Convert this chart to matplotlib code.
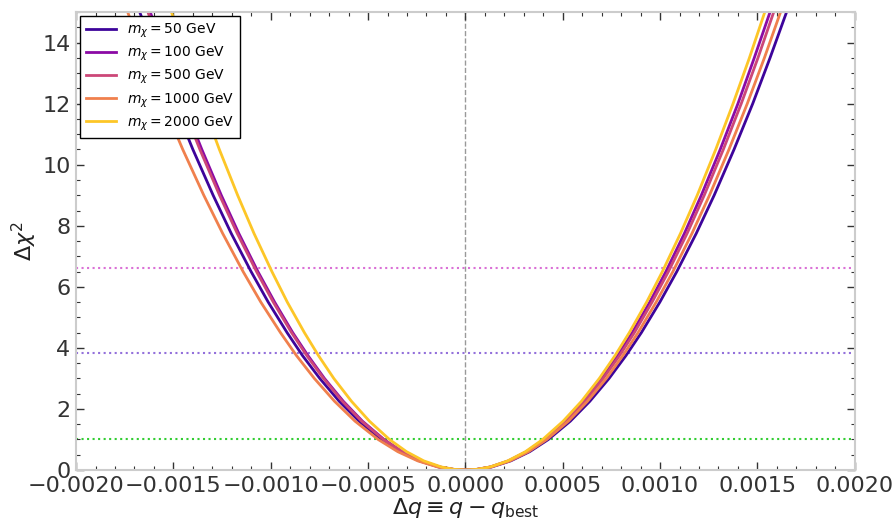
import numpy as np
import matplotlib
matplotlib.use("Agg")
import matplotlib.pyplot as plt
from matplotlib.ticker import MultipleLocator, FuncFormatter

levels = [15, 13.5, 12, 10.5, 9, 7.75, 6.5, 5.5, 4.5, 3.75, 3, 2.25, 1.6, 1, 0.6, 0.3, 0.1, 0.02, 0]

# |Delta q| (units of 1e-3) at those levels, left (q < q_best) and right branch
left_50 = [1.673, 1.587, 1.496, 1.400, 1.296, 1.203, 1.101, 1.013, 0.916, 0.837, 0.748, 0.648, 0.546, 0.432, 0.335, 0.237, 0.137, 0.061, 0]
right_50 = [1.650, 1.565, 1.476, 1.380, 1.278, 1.186, 1.086, 0.999, 0.904, 0.825, 0.738, 0.639, 0.539, 0.426, 0.330, 0.233, 0.135, 0.060, 0]
left_100 = [1.619, 1.536, 1.448, 1.354, 1.254, 1.164, 1.066, 0.980, 0.887, 0.809, 0.724, 0.627, 0.529, 0.418, 0.324, 0.229, 0.132, 0.059, 0]
right_100 = [1.565, 1.484, 1.400, 1.309, 1.212, 1.125, 1.030, 0.947, 0.857, 0.782, 0.700, 0.606, 0.511, 0.404, 0.313, 0.221, 0.128, 0.057, 0]
left_500 = [1.631, 1.547, 1.458, 1.364, 1.263, 1.172, 1.073, 0.987, 0.893, 0.815, 0.729, 0.632, 0.533, 0.421, 0.326, 0.231, 0.133, 0.060, 0]
right_500 = [1.584, 1.503, 1.417, 1.325, 1.227, 1.139, 1.043, 0.959, 0.868, 0.792, 0.708, 0.614, 0.517, 0.409, 0.317, 0.224, 0.129, 0.058, 0]
left_1000 = [1.735, 1.646, 1.552, 1.452, 1.344, 1.247, 1.142, 1.051, 0.950, 0.868, 0.776, 0.672, 0.567, 0.448, 0.347, 0.245, 0.142, 0.063, 0]
right_1000 = [1.619, 1.536, 1.448, 1.354, 1.254, 1.164, 1.066, 0.980, 0.887, 0.809, 0.724, 0.627, 0.529, 0.418, 0.324, 0.229, 0.132, 0.059, 0]
left_2000 = [1.510, 1.433, 1.351, 1.264, 1.170, 1.086, 0.994, 0.915, 0.827, 0.755, 0.676, 0.585, 0.493, 0.390, 0.302, 0.214, 0.123, 0.055, 0]
right_2000 = [1.538, 1.459, 1.375, 1.286, 1.191, 1.105, 1.012, 0.931, 0.842, 0.769, 0.688, 0.596, 0.502, 0.397, 0.308, 0.217, 0.126, 0.056, 0]

masses = [50, 100, 500, 1000, 2000]
lefts = [left_50, left_100, left_500, left_1000, left_2000]
rights = [right_50, right_100, right_500, right_1000, right_2000]
colors = ['#3d049b', '#8b0aa5', '#cc4778', '#f0804d', '#fdc627']

# confidence levels (1 dof): 68%, 95%, 99%
cl_levels = [1.0, 3.84, 6.63]
cl_colors = ['limegreen', 'mediumpurple', 'orchid']

fig = plt.figure(figsize=(8.95, 5.24), dpi=100)
ax = fig.add_axes([0.085, 0.103, 0.87, 0.874])

for lvl, c in zip(cl_levels, cl_colors):
    ax.axhline(lvl, color=c, ls=':', lw=1.5, zorder=1)
ax.axvline(0, color='grey', ls='--', lw=1, alpha=0.8, zorder=1)

for m, l, r, c in zip(masses, lefts, rights, colors):
    x = np.concatenate([-np.array(l), np.array(r[::-1])]) * 1e-3
    y = levels + levels[::-1]
    ax.plot(x, y, color=c, lw=2, label=r'$m_\chi = $' + f'{m} GeV', zorder=2)

ax.set_xlim(-0.002, 0.002)
ax.set_ylim(0, 15)
ax.xaxis.set_major_locator(MultipleLocator(0.0005))
ax.xaxis.set_minor_locator(MultipleLocator(0.0001))
ax.yaxis.set_major_locator(MultipleLocator(2))
ax.yaxis.set_minor_locator(MultipleLocator(0.5))
ax.xaxis.set_major_formatter(FuncFormatter(lambda v, p: f'{v:.4f}'.replace('-', '\u2212')
                                           if abs(v) > 1e-12 else '0.0000'))
ax.tick_params(which='both', direction='in', top=True, right=True, colors='#333333')
ax.tick_params(which='major', length=6, width=1, labelsize=16, pad=4)
ax.tick_params(which='minor', length=3, width=0.8)
for s in ax.spines.values():
    s.set_color('#cccccc')
    s.set_linewidth(1.5)

ax.set_xlabel(r'$\Delta q \equiv q - q_{\rm best}$', fontsize=16, labelpad=0, color='#222222')
ax.set_ylabel(r'$\Delta\chi^2$', fontsize=16, labelpad=2, color='#222222')

leg = ax.legend(loc='upper left', fontsize=10, fancybox=False, framealpha=1,
                borderaxespad=0.3, handlelength=2.2, labelspacing=0.35)
leg.get_frame().set_edgecolor('black')
leg.get_frame().set_linewidth(1.0)

fig.savefig('out.png', dpi=100)
